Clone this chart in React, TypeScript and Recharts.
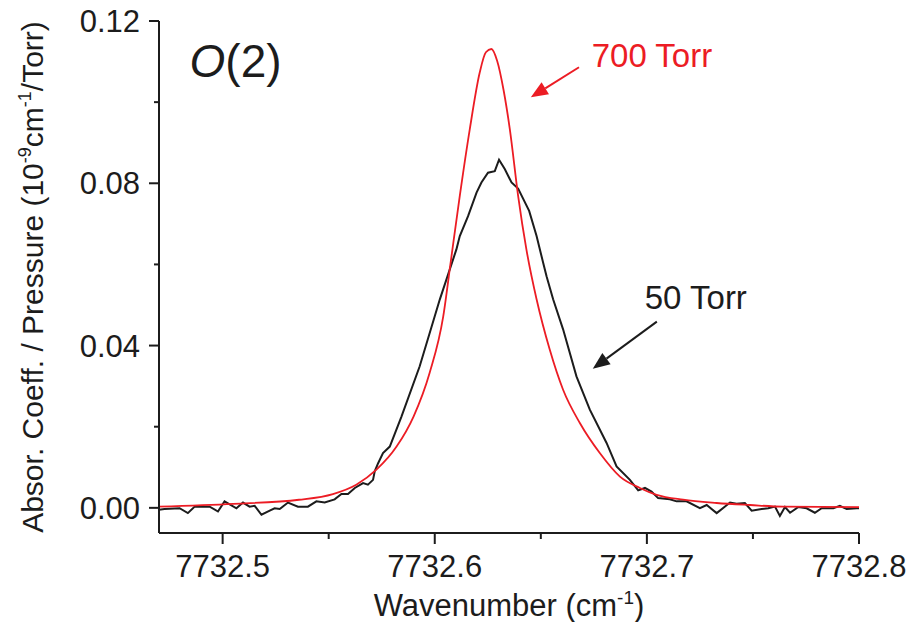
import React from 'react';
import { LineChart, Line, XAxis, YAxis, ReferenceLine, ReferenceDot } from 'recharts';

// 700 Torr (red) trace
const wavenumber700 = [
  7732.47, 7732.505, 7732.536, 7732.552, 7732.563, 7732.5725, 7732.582, 7732.59, 7732.5976, 7732.604,
  7732.6075, 7732.6118, 7732.6165, 7732.6212, 7732.6241, 7732.6267, 7732.6294, 7732.6325, 7732.6354, 7732.6393,
  7732.6432, 7732.648, 7732.6542, 7732.6605, 7732.6684, 7732.6778, 7732.6873, 7732.6967, 7732.7046, 7732.7171,
  7732.7329, 7732.7486, 7732.7643, 7732.8,
];
const absorption700 = [
  0.0003, 0.001, 0.002, 0.0034, 0.0057, 0.0094, 0.0151, 0.0225, 0.0333, 0.0472,
  0.0605, 0.0769, 0.0933, 0.1073, 0.1123, 0.1131, 0.1102, 0.1028, 0.0933, 0.0769,
  0.0637, 0.0514, 0.039, 0.0291, 0.0209, 0.0135, 0.0077, 0.0049, 0.0032, 0.002,
  0.0012, 0.0007, 0.0003, 0.0002,
];

// 50 Torr (black) trace
const wavenumber50 = [
  7732.4698, 7732.4726, 7732.4797, 7732.4836, 7732.4868, 7732.4939, 7732.4978, 7732.5009, 7732.5065, 7732.5096,
  7732.5127, 7732.5151, 7732.5183, 7732.5222, 7732.5245, 7732.5269, 7732.5308, 7732.5355, 7732.5402, 7732.5442,
  7732.5481, 7732.5528, 7732.556, 7732.5591, 7732.5623, 7732.5662, 7732.5685, 7732.5709, 7732.5717, 7732.5733,
  7732.5756, 7732.5788, 7732.5843, 7732.5929, 7732.6024, 7732.6102, 7732.6118, 7732.6157, 7732.6197, 7732.622,
  7732.6251, 7732.6283, 7732.6303, 7732.633, 7732.6362, 7732.6393, 7732.6445, 7732.648, 7732.6511, 7732.6527,
  7732.6558, 7732.6605, 7732.6668, 7732.6731, 7732.681, 7732.6857, 7732.692, 7732.6959, 7732.6991, 7732.7022,
  7732.7053, 7732.7108, 7732.714, 7732.7187, 7732.725, 7732.7282, 7732.7329, 7732.7392, 7732.7423, 7732.7462,
  7732.7494, 7732.7541, 7732.7572, 7732.7604, 7732.7627, 7732.7651, 7732.7675, 7732.7714, 7732.7753, 7732.7792,
  7732.7824, 7732.7879, 7732.791, 7732.7942, 7732.7989, 7732.8,
];
const absorption50 = [
  -0.0005, -0.0003, -0.0001, -0.0013, 0.0003, 0.0003, -0.0009, 0.0016, -0.0001, 0.0013,
  0.0003, 0.0005, -0.0017, -0.0007, -0.0001, -0.0003, 0.0013, 0.0003, 0.0003, 0.0016,
  0.0013, 0.0021, 0.0034, 0.0034, 0.0049, 0.0061, 0.0057, 0.0069, 0.009, 0.011,
  0.0135, 0.0151, 0.0225, 0.0349, 0.0514, 0.0637, 0.067, 0.0719, 0.0777, 0.0802,
  0.0826, 0.083, 0.0858, 0.0835, 0.0802, 0.0787, 0.0732, 0.067, 0.0604, 0.0571,
  0.0514, 0.044, 0.0324, 0.0242, 0.016, 0.0102, 0.0069, 0.0043, 0.0049, 0.004,
  0.0024, 0.0021, 0.0016, 0.0016, -0.0001, 0.0007, -0.0013, 0.0013, 0.001, 0.0012,
  -0.0007, -0.0003, -0.0001, 0.0003, -0.002, 0.0002, -0.0012, 0.0002, -0.0001, -0.0012,
  -0.0001, -0.0001, 0.0005, -0.0003, -0.0001, -0.0001,
];

// axes
const xDomain = [7732.47, 7732.8];
const yDomain = [-0.0062, 0.12];
const xMajorTicks = [7732.5, 7732.6, 7732.7, 7732.8];
const xMinorTicks = [7732.55, 7732.65, 7732.75];
const yMajorTicks = [0, 0.04, 0.08, 0.12];
const yMinorTicks = [0.02, 0.06, 0.1];

// annotations (data coordinates)
const label700 = { x: 7732.674, y: 0.1086, text: '700 Torr' };
const label50 = { x: 7732.699, y: 0.0491, text: '50 Torr' };
const labelBand = { x: 7732.4844, y: 0.1062 };
const arrow700 = [{ x: 7732.668, y: 0.1086 }, { x: 7732.6453, y: 0.1012 }];
const arrow50 = [{ x: 7732.7047, y: 0.0459 }, { x: 7732.6745, y: 0.0343 }];

const series700 = wavenumber700.map((x, i) => ({ x, y: absorption700[i] }));
const series50 = wavenumber50.map((x, i) => ({ x, y: absorption50[i] }));

const FONT = '"Liberation Sans", Arial, Helvetica, sans-serif';
const INK = '#1c1c1c';
const RED = '#ec1c24';
const TICK_SIZE = 10;
const TICK_MARGIN = 8;

const isIn = (v: number, list: number[]) => list.some((m) => Math.abs(m - v) < 1e-6);

const XTick = (props: any) => {
  const { x, y, payload } = props;
  const v = payload.value as number;
  const major = isIn(v, xMajorTicks);
  const axisY = y - TICK_SIZE - TICK_MARGIN;
  return (
    <g>
      <line x1={x} x2={x} y1={axisY} y2={axisY + (major ? 11 : 6)} stroke={INK} strokeWidth={2} />
      {major && (
        <text x={x} y={axisY + 44} textAnchor="middle" fontSize={31} fontFamily={FONT} fill={INK}>
          {v.toFixed(1)}
        </text>
      )}
    </g>
  );
};

const YTick = (props: any) => {
  const { x, y, payload } = props;
  const v = payload.value as number;
  const major = isIn(v, yMajorTicks);
  const axisX = x + TICK_SIZE + TICK_MARGIN;
  return (
    <g>
      <line x1={axisX} x2={axisX - (major ? 10 : 5)} y1={y} y2={y} stroke={INK} strokeWidth={2} />
      {major && (
        <text x={axisX - 19} y={y + 11} textAnchor="end" fontSize={31} fontFamily={FONT} fill={INK}>
          {v.toFixed(2)}
        </text>
      )}
    </g>
  );
};

const XTitle = (props: any) => {
  const vb = props.viewBox || {};
  const cx = vb.x + vb.width / 2;
  const y = vb.y + 83;
  return (
    <text x={cx} y={y} textAnchor="middle" fontSize={31} fontFamily={FONT} fill={INK}>
      Wavenumber (cm
      <tspan dy={-12} fontSize={19}>-1</tspan>
      <tspan dy={12}>)</tspan>
    </text>
  );
};

const YTitle = (props: any) => {
  const vb = props.viewBox || {};
  const cx = 43;
  const cy = vb.y + vb.height / 2;
  return (
    <text
      x={cx}
      y={cy}
      transform={`rotate(-90 ${cx} ${cy})`}
      textAnchor="middle"
      fontSize={30}
      fontFamily={FONT}
      fill={INK}
    >
      Absor. Coeff. / Pressure (10
      <tspan dy={-12} fontSize={18}>-9</tspan>
      <tspan dy={12}>cm</tspan>
      <tspan dy={-12} fontSize={18}>-1</tspan>
      <tspan dy={12}>/Torr)</tspan>
    </text>
  );
};

const makeArrow = (color: string) => (p: any) => {
  const { x1, y1, x2, y2 } = p;
  const dx = x2 - x1;
  const dy = y2 - y1;
  const len = Math.sqrt(dx * dx + dy * dy) || 1;
  const ux = dx / len;
  const uy = dy / len;
  const headLen = 17;
  const halfW = 7;
  const bx = x2 - ux * headLen;
  const by = y2 - uy * headLen;
  const px = -uy;
  const py = ux;
  return (
    <g>
      <line x1={x1} y1={y1} x2={bx} y2={by} stroke={color} strokeWidth={2} />
      <polygon
        points={`${x2},${y2} ${bx + px * halfW},${by + py * halfW} ${bx - px * halfW},${by - py * halfW}`}
        fill={color}
      />
    </g>
  );
};

const textShape = (text: string, color: string, size: number) => (p: any) => (
  <text x={p.cx} y={p.cy} fontSize={size} fontFamily={FONT} fill={color}>
    {text}
  </text>
);

const bandShape = (p: any) => (
  <text x={p.cx} y={p.cy} fontSize={46} fontFamily={FONT} fill={INK}>
    <tspan fontStyle="italic">O</tspan>(2)
  </text>
);

const xTicks = [...xMajorTicks, ...xMinorTicks].sort((a, b) => a - b);
const yTicks = [...yMajorTicks, ...yMinorTicks].sort((a, b) => a - b);

export default function App() {
  return (
    <div style={{ position: 'absolute', left: 0, top: 0, width: 910, height: 622, background: '#fff' }}>
      <LineChart width={910} height={622} margin={{ top: 21, right: 51, left: 0, bottom: 0 }}>
        <XAxis
          dataKey="x"
          type="number"
          domain={xDomain}
          allowDataOverflow
          ticks={xTicks}
          interval={0}
          height={89}
          tickSize={TICK_SIZE}
          tickMargin={TICK_MARGIN}
          tickLine={false}
          tick={<XTick />}
          axisLine={{ stroke: INK, strokeWidth: 2 }}
          label={<XTitle />}
        />
        <XAxis
          xAxisId="top"
          orientation="top"
          type="number"
          domain={xDomain}
          allowDataOverflow
          height={0}
          tick={false}
          tickLine={false}
          axisLine={{ stroke: INK, strokeWidth: 2 }}
        />
        <YAxis
          type="number"
          domain={yDomain}
          allowDataOverflow
          ticks={yTicks}
          interval={0}
          width={159}
          tickSize={TICK_SIZE}
          tickMargin={TICK_MARGIN}
          tickLine={false}
          tick={<YTick />}
          axisLine={{ stroke: INK, strokeWidth: 2 }}
          label={<YTitle />}
        />
        <YAxis
          yAxisId="right"
          orientation="right"
          type="number"
          domain={yDomain}
          allowDataOverflow
          width={0}
          tick={false}
          tickLine={false}
          axisLine={{ stroke: INK, strokeWidth: 2 }}
        />
        <Line
          data={series50}
          dataKey="y"
          type="linear"
          stroke={INK}
          strokeWidth={2}
          dot={false}
          isAnimationActive={false}
        />
        <Line
          data={series700}
          dataKey="y"
          type="monotone"
          stroke={RED}
          strokeWidth={1.8}
          dot={false}
          isAnimationActive={false}
        />
        <ReferenceLine segment={arrow700} shape={makeArrow(RED)} ifOverflow="visible" />
        <ReferenceLine segment={arrow50} shape={makeArrow(INK)} ifOverflow="visible" />
        <ReferenceDot x={label700.x} y={label700.y} r={0} shape={textShape(label700.text, RED, 33)} ifOverflow="visible" />
        <ReferenceDot x={label50.x} y={label50.y} r={0} shape={textShape(label50.text, INK, 33)} ifOverflow="visible" />
        <ReferenceDot x={labelBand.x} y={labelBand.y} r={0} shape={bandShape} ifOverflow="visible" />
      </LineChart>
    </div>
  );
}
